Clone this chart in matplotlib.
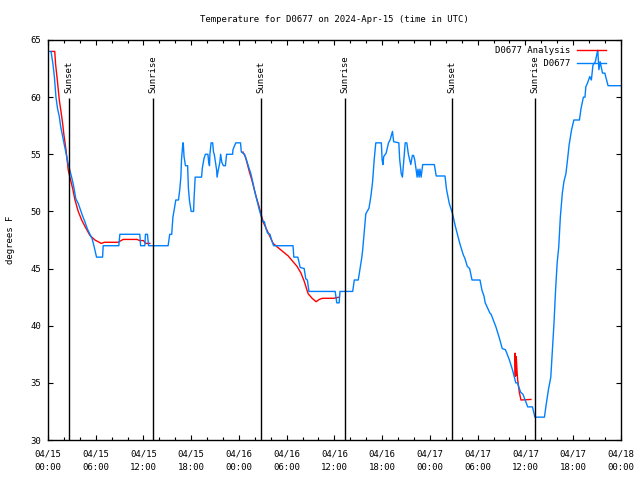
import numpy as np
import matplotlib
matplotlib.use("Agg")
import matplotlib.pyplot as plt
from matplotlib.ticker import MultipleLocator

# hours since 2024-04-15 00:00 UTC, observed temperature (F)
obs_hours = [0.0, 0.38, 0.6, 0.8, 1.0, 1.2, 1.42, 1.6, 1.8, 2.0, 2.25, 2.55, 2.97, 3.2, 3.5, 3.8,
             4.1, 4.4, 4.64, 4.93, 5.27, 5.55, 5.77, 6.1, 6.86, 6.94, 8.9, 9.03, 11.54, 11.64,
             12.17, 12.25, 12.5, 12.64, 15.1, 15.3, 15.55, 15.7, 15.9, 16.06, 16.4, 16.56, 16.7,
             16.78, 16.95, 17.0, 17.1, 17.28, 17.55, 17.65, 17.8, 18.0, 18.3, 18.35, 18.44, 18.5,
             19.3, 19.4, 19.6, 19.78, 20.1, 20.2, 20.3, 20.35, 20.5, 20.7, 20.8, 20.9, 21.2, 21.25,
             21.4, 21.6, 21.7, 21.85, 22.05, 22.3, 22.45, 23.2, 23.25, 23.6, 24.2, 24.3, 24.7,
             24.95, 25.26, 25.5, 25.76, 26.0, 26.26, 26.5, 26.7, 27.0, 27.2, 27.4, 27.6, 27.9,
             28.1, 28.36, 30.8, 30.9, 31.4, 31.7, 32.2, 32.4, 32.6, 32.8, 36.1, 36.3, 36.6, 36.7,
             38.3, 38.5, 39.0, 39.2, 39.45, 39.55, 39.75, 39.95, 40.2, 40.35, 40.6, 40.8, 41.0,
             41.2, 41.9, 42.0, 42.1, 42.2, 42.5, 42.8, 43.0, 43.3, 43.45, 44.1, 44.2, 44.4, 44.55,
             44.9, 45.1, 45.3, 45.6, 45.8, 45.95, 46.1, 46.3, 46.4, 46.5, 46.65, 46.75, 46.9, 47.1,
             48.56, 48.8, 49.9, 50.1, 50.44, 50.85, 51.2, 51.5, 51.8, 52.2, 52.4, 52.7, 53.0, 53.3,
             54.3, 54.55, 54.8, 54.96, 55.55, 55.7, 56.3, 56.7, 57.1, 57.5, 58.0, 58.4, 58.8, 59.0,
             59.4, 59.7, 60.3, 60.9, 61.2, 62.4, 62.6, 62.9, 63.2, 63.4, 63.6, 63.8, 64.0, 64.2,
             64.4, 64.65, 64.85, 65.1, 65.3, 65.5, 65.8, 66.1, 66.8, 67.0, 67.3, 67.5, 67.6, 67.8,
             68.1, 68.3, 68.5, 68.8, 69.0, 69.1, 69.25, 69.4, 69.7, 70.0, 70.1, 70.4, 72.0]
obs_temp = [64, 64, 63, 61.8, 60, 59, 58.3, 57.4, 56.7, 56, 55.1, 54.1, 53, 52.3, 51.1, 50.7,
            50.1, 49.5, 49.1, 48.5, 48, 47.6, 47, 46, 46, 47, 47, 48, 48, 47,
            47, 48, 48, 47, 47, 48, 48, 49.5, 50.3, 51, 51, 51.9, 53,
            54.5, 56, 56, 54.8, 54, 54, 52, 50.85, 50, 50, 51, 52.3, 53,
            53, 53.8, 54.6, 55, 55, 54.3, 54, 55, 56, 56, 55.2, 55, 53.6, 53,
            53.6, 54.3, 55, 54.3, 54, 54, 55, 55, 55.4, 56, 56, 55.2, 55,
            54.5, 53.8, 53.3, 52.5, 51.7, 51, 50.3, 49.8, 49.1, 49.1, 48.5, 48.1, 48,
            47.5, 47, 47, 46, 46, 45.1, 45, 44.1, 44, 43, 43, 42, 42, 43,
            43, 44, 44, 44.9, 46, 46.6, 48.2, 49.8, 50.1, 50.3, 51.4, 52.6, 54.5,
            56, 56, 54.5, 54.1, 54.8, 55.1, 56, 56.25, 57, 56.1, 56, 54.6, 53.3, 53,
            56, 56, 55, 54.1, 54.9, 54.9, 54.5, 53.5, 53, 53.7, 53, 53.7, 53, 54.1,
            54.1, 53.1, 53.1, 51.9, 50.7, 49.8, 48.7, 47.9, 47.1, 46.2, 45.9, 45.2, 45, 44,
            44, 43.1, 42.6, 42, 41.1, 41, 39.9, 39, 38, 37.9, 37, 36.1, 35, 35,
            34.2, 34, 32.9, 32.9, 32, 32, 33, 34.4, 35.5, 37.9, 40.2, 43.1, 45.5, 46.9,
            49.5, 51.6, 52.6, 53.3, 54.5, 55.8, 57.1, 58, 58, 59, 60, 60, 60.9, 61.2,
            61.8, 61.5, 62.8, 63.1, 63.8, 64.1, 62.4, 63.1, 62.1, 62.1, 61.8, 61, 61]

# analysis series (gaps where no analysis)
ana_hours = [0.45, 0.85, 0.95, 1.17, 1.42, 1.6, 1.84, 2.0, 2.26, 2.55, 2.75, 3.1, 3.39, 3.8,
             4.23, 4.64, 5.27, 5.9, 6.7, 7.1, 8.8, 9.45, 11.2, 11.5, 12.0, 12.3, 12.8,
             18.0,
             24.5, 24.8, 25.0, 25.3, 25.6, 25.9, 26.2, 26.5, 26.8, 27.1, 27.5, 27.9, 28.3, 28.8,
             29.5, 30.2, 30.8, 31.3, 31.8, 32.2, 32.7, 33.2, 33.7, 34.1, 34.5, 35.9, 36.6,
             45.0,
             58.7, 58.72, 58.78, 58.86, 58.95, 59.03, 59.24, 59.45, 60.7]
ana_temp = [64, 64, 62.9, 61.5, 59.75, 58.9, 57.7, 56.7, 55.4, 53.6, 53, 52, 51, 50,
            49.25, 48.7, 47.9, 47.5, 47.2, 47.3, 47.3, 47.55, 47.55, 47.45, 47.45, 47.2, 47.2,
            np.nan,
            55.2, 54.8, 54.3, 53.5, 52.8, 52.0, 51.2, 50.5, 49.7, 49.0, 48.4, 47.8, 47.2, 46.9,
            46.5, 46.1, 45.6, 45.2, 44.6, 43.9, 42.8, 42.4, 42.1, 42.3, 42.4, 42.4, 42.5,
            np.nan,
            35.6, 37.6, 35.6, 37.3, 36.1, 35.3, 34.2, 33.5, 33.55]

sunset_hours = [2.67, 26.79, 50.73]
sunrise_hours = [13.21, 37.35, 61.26]

tick_hours = np.arange(0, 73, 6)
tick_labels = ['04/15\n00:00', '04/15\n06:00', '04/15\n12:00', '04/15\n18:00',
               '04/16\n00:00', '04/16\n06:00', '04/16\n12:00', '04/16\n18:00',
               '04/17\n00:00', '04/17\n06:00', '04/17\n12:00', '04/17\n18:00',
               '04/18\n00:00']

plt.rcParams['font.family'] = 'DejaVu Sans Mono'
plt.rcParams['font.size'] = 6.5

fig = plt.figure(figsize=(6.4, 4.8), dpi=100)
ax = fig.add_axes([0.075, 0.0833, 0.895, 0.8334])

ax.plot(ana_hours, ana_temp, color='#ff0000', lw=1.0, label='D0677 Analysis')
ax.plot(obs_hours, obs_temp, color='#0080ff', lw=1.0, label=' ' * 9 + 'D0677')

#sunrise / sunset markers
for h in sunset_hours:
    ax.vlines(h, 30, 59.9, color='black', lw=1.0)
    ax.text(h, 60.4, 'Sunset', rotation=90, ha='center', va='bottom', fontsize=6.5)
for h in sunrise_hours:
    ax.vlines(h, 30, 59.9, color='black', lw=1.0)
    ax.text(h, 60.4, 'Sunrise', rotation=90, ha='center', va='bottom', fontsize=6.5)

ax.set_xlim(0, 72)
ax.set_ylim(30, 65)
ax.set_xticks(tick_hours)
ax.set_xticklabels(tick_labels)
for lab in ax.get_xticklabels():
    lab.set_linespacing(1.75)
ax.xaxis.set_minor_locator(MultipleLocator(2))
ax.set_yticks(np.arange(30, 66, 5))
ax.tick_params(which='both', direction='in', top=True, right=True, width=0.8)
ax.tick_params(which='major', length=3.8, pad=5)
ax.tick_params(axis='x', which='major', pad=6.5)
ax.tick_params(which='minor', length=2.2)
for s in ax.spines.values():
    s.set_linewidth(1.0)

ax.set_ylabel('degrees F', labelpad=11)
ax.set_title('Temperature for D0677 on 2024-Apr-15 (time in UTC)', pad=13, fontsize=6.5)
ax.legend(loc='upper right', frameon=False, markerfirst=False, handlelength=3.2,
          handletextpad=0.8, labelspacing=0.45, borderaxespad=0.3,
          bbox_to_anchor=(0.985, 1.0))

fig.savefig('out.png', dpi=100)
